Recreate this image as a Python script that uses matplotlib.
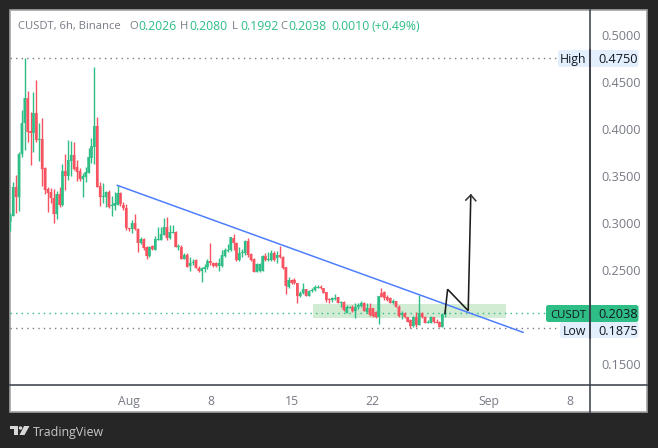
import matplotlib
matplotlib.use("Agg")
import matplotlib.pyplot as plt
from matplotlib.patches import Rectangle, FancyBboxPatch, Polygon, Circle

opens = [.3007,.3071,.3380,.3273,.3731,.4061,.4327,.3976,.3955,.4168,
 .3880,.3891,.3582,.3359,.3327,.3263,.3092,.3305,.3188,.3550,
 .3497,.3657,.3721,.3593,.3550,.3465,.3486,.3529,.3689,.3806,
 .4029,.3390,.3273,.3273,.3327,.3178,.3178,.3188,.3316,.3188,
 .3156,.2943,.2933,.2996,.2933,.2784,.2826,.2741,.2645,.2752,
 .2709,.2815,.2815,.2869,.2954,.2837,.2890,.2901,.2741,.2741,
 .2613,.2656,.2539,.2571,.2603,.2517,.2485,.2507,.2528,.2592,
 .2571,.2571,.2539,.2539,.2645,.2698,.2709,.2837,.2784,.2603,
 .2677,.2677,.2805,.2666,.2613,.2475,.2485,.2485,.2645,.2603,
 .2603,.2677,.2624,.2656,.2634,.2528,.2315,.2390,.2390,.2358,
 .2219,.2251,.2294,.2219,.2272,.2283,.2304,.2315,.2304,.2262,
 .2187,.2177,.2187,.2209,.2145,.2155,.2038,.2091,.2102,.2059,
 .2102,.2113,.2145,.2049,.2091,.2091,.2049,.1996,.2251,.2262,
 .2209,.2198,.2145,.2166,.2102,.2017,.2038,.1996,.1964,.1900,
 .1996,.1910,.2038,.1996,.1932,.1932,.1996,.1942,.1942,.1889,.2026]
highs = [.3103,.3433,.3508,.3752,.4200,.4753,.4402,.4178,.4391,.4519,
 .4061,.4115,.3593,.3380,.3369,.3359,.3337,.3380,.3625,.3731,
 .3880,.3870,.3859,.3667,.3582,.3529,.3593,.3795,.3902,.4658,
 .4125,.3433,.3423,.3337,.3348,.3284,.3327,.3401,.3327,.3220,
 .3199,.2943,.3028,.3092,.2943,.2847,.2837,.2752,.2752,.2762,
 .2858,.2954,.2954,.3050,.3060,.2975,.2975,.2911,.2773,.2762,
 .2677,.2677,.2634,.2613,.2613,.2539,.2528,.2560,.2613,.2784,
 .2581,.2581,.2624,.2709,.2730,.2773,.2847,.2879,.2794,.2741,
 .2720,.2815,.2837,.2677,.2624,.2571,.2571,.2656,.2677,.2688,
 .2709,.2698,.2698,.2752,.2645,.2528,.2421,.2400,.2411,.2358,
 .2272,.2358,.2294,.2283,.2304,.2336,.2336,.2336,.2304,.2262,
 .2198,.2209,.2241,.2209,.2166,.2166,.2123,.2113,.2123,.2145,
 .2145,.2166,.2155,.2145,.2145,.2091,.2059,.2219,.2304,.2272,
 .2230,.2209,.2187,.2166,.2123,.2059,.2049,.1996,.1974,.2006,
 .2049,.2230,.2049,.2006,.1964,.2006,.1996,.1974,.1953,.2038,.2080]
lows = [.2911,.3071,.3103,.3124,.3699,.3774,.3859,.3614,.3752,.3859,
 .3657,.3390,.3305,.3114,.3210,.2996,.3039,.3167,.3178,.3348,
 .3454,.3497,.3561,.3444,.3444,.3273,.3433,.3529,.3635,.3625,
 .3380,.3178,.3210,.3167,.3156,.3071,.3135,.3188,.3178,.3135,
 .2922,.2911,.2890,.2922,.2688,.2773,.2709,.2613,.2634,.2709,
 .2709,.2815,.2815,.2869,.2815,.2826,.2890,.2741,.2709,.2613,
 .2613,.2528,.2485,.2549,.2517,.2475,.2368,.2475,.2507,.2549,
 .2528,.2528,.2485,.2528,.2634,.2688,.2698,.2709,.2592,.2592,
 .2634,.2656,.2634,.2592,.2475,.2475,.2475,.2485,.2592,.2592,
 .2592,.2592,.2571,.2624,.2507,.2241,.2304,.2347,.2347,.2145,
 .2209,.2241,.2219,.2219,.2262,.2272,.2304,.2294,.2251,.2155,
 .2145,.2155,.2177,.2145,.2102,.2059,.2038,.2091,.2049,.1985,
 .2081,.2102,.2059,.2038,.2006,.1996,.1985,.1921,.2209,.2177,
 .2166,.2145,.2134,.2102,.1996,.1974,.1985,.1942,.1875,.1889,
 .1889,.1910,.1985,.1932,.1932,.1932,.1932,.1932,.1889,.1889,.1992]
closes = [.3082,.3380,.3273,.3731,.4061,.4327,.3965,.3955,.4168,.3880,
 .3891,.3571,.3348,.3316,.3263,.3092,.3305,.3188,.3550,.3497,
 .3667,.3721,.3571,.3540,.3465,.3497,.3540,.3699,.3816,.4029,
 .3380,.3273,.3284,.3327,.3167,.3188,.3210,.3316,.3199,.3156,
 .2943,.2933,.2996,.2933,.2784,.2826,.2730,.2645,.2741,.2720,
 .2826,.2826,.2879,.2954,.2837,.2901,.2901,.2741,.2752,.2613,
 .2656,.2528,.2571,.2581,.2517,.2485,.2517,.2528,.2592,.2571,
 .2539,.2539,.2571,.2656,.2709,.2709,.2847,.2784,.2603,.2677,
 .2688,.2805,.2656,.2603,.2475,.2560,.2560,.2645,.2603,.2613,
 .2677,.2603,.2656,.2634,.2517,.2326,.2390,.2358,.2358,.2219,
 .2251,.2294,.2219,.2272,.2283,.2315,.2315,.2304,.2251,.2177,
 .2177,.2198,.2198,.2145,.2155,.2070,.2102,.2102,.2059,.2102,
 .2123,.2145,.2059,.2091,.2017,.2006,.1996,.2219,.2209,.2198,
 .2177,.2145,.2166,.2102,.2006,.2038,.1996,.1942,.1900,.1996,
 .1910,.2038,.1996,.1932,.1942,.1996,.1942,.1932,.1889,.2026,.2038]

price_ticks = [0.15, 0.25, 0.30, 0.35, 0.40, 0.45, 0.50]
price_tick_labels = ["0.1500", "0.2500", "0.3000", "0.3500", "0.4000", "0.4500", "0.5000"]
time_ticks = [41, 69, 97, 125, 165, 193]
time_tick_labels = ["Aug", "8", "15", "22", "Sep", "8"]

high_level = 0.4750
last_level = 0.2038
low_level = 0.1875

trend_x = [36.9, 176.8]
trend_price = [0.3398, 0.1833]
zone_x = [104.4, 170.9]
zone_price = [0.1988, 0.2134]
path_x = [149.9, 150.8, 157.9, 158.8]
path_price = [0.2035, 0.2291, 0.2063, 0.3295]
head_x = [157.1, 158.8, 160.5]
head_price = [0.3241, 0.3295, 0.3234]

GREEN = "#2ebd85"
RED = "#f7525f"
GREY = "#787b86"
DARK = "#363a45"
W, H = 658, 448

plt.rcParams["font.family"] = ["Open Sans", "DejaVu Sans"]
fig = plt.figure(figsize=(W / 100, H / 100), dpi=100, facecolor="#262626")

# underlay: white panel
under = fig.add_axes([0, 0, 1, 1], zorder=0)
under.set_xlim(0, W); under.set_ylim(H, 0); under.axis("off")
under.add_patch(Rectangle((10, 10), 637, 402, fc="white", ec="#a3a3a3", lw=1.2))

# price pane
ax = fig.add_axes([10 / W, (H - 385) / H, 580 / W, 375 / H], zorder=1)
ax.patch.set_alpha(0)
ax.set_xlim(-0.1, 199.9)
ax.set_ylim(0.1272, 0.5265)
for s in ax.spines.values():
    s.set_visible(False)

ax.add_patch(Rectangle((zone_x[0], zone_price[0]), zone_x[1] - zone_x[0],
                       zone_price[1] - zone_price[0], fc="#d2ebd3", ec="none", zorder=1))
ax.plot([-0.1, 189], [high_level] * 2, color=GREY, lw=1, ls=(0, (1, 3)), zorder=1.5)
ax.plot([-0.1, 184.5], [last_level] * 2, color=GREEN, lw=1, ls=(0, (1, 3)), zorder=1.5)
ax.plot([-0.1, 189.5], [low_level] * 2, color=GREY, lw=1, ls=(0, (1, 3)), zorder=1.5)

for i, (o, h, l, c) in enumerate(zip(opens, highs, lows, closes)):
    col = GREEN if c >= o else RED
    ax.vlines(i, l, h, color=col, lw=1, zorder=2)
    ax.bar(i, max(abs(c - o), 0.0012), bottom=min(o, c), width=0.92, color=col, lw=0, zorder=3, snap=False)

ax.plot(trend_x, trend_price, color="#4d7fff", lw=1.1, zorder=4)
ax.plot(path_x, path_price, color="#1c1c1c", lw=1.15, zorder=5, solid_joinstyle="miter")
ax.plot(head_x, head_price, color="#333333", lw=1.1, zorder=5)

ax.yaxis.tick_right()
ax.set_yticks(price_ticks, price_tick_labels)
ax.set_xticks(time_ticks, time_tick_labels)
ax.tick_params(axis="y", length=0, pad=8, labelsize=9.2, labelcolor=GREY)
ax.tick_params(axis="x", length=0, pad=7, labelsize=8.8, labelcolor=GREY)

# overlay: axis lines, price labels, legend, footer
ov = fig.add_axes([0, 0, 1, 1], zorder=2)
ov.set_xlim(0, W); ov.set_ylim(H, 0); ov.axis("off"); ov.patch.set_alpha(0)
ov.plot([10, 647], [385, 385], color=DARK, lw=1.1)
ov.plot([590, 590], [10, 412], color=DARK, lw=1.1)


def box(x0, x1, y0, y1, fc):
    ov.add_patch(FancyBboxPatch((x0 + 2, y0 + 2), x1 - x0 - 4, y1 - y0 - 4,
                                boxstyle="round,pad=2,rounding_size=2.5", fc=fc, ec="none", zorder=1))


box(558, 638.5, 50, 67, "#e3effd")
box(546, 638.5, 305, 322, GREEN)
box(560, 638.5, 322, 338, "#e3effd")
ov.plot([590, 590], [50, 338], color=DARK, lw=1.1, zorder=1.5)
for label, size, value, y, in [("High", 8.8, "0.4750", 58.3), ("CUSDT", 8.2, "0.2038", 313.5), ("Low", 8.8, "0.1875", 330)]:
    ov.text(586, y, label, ha="right", va="center_baseline", fontsize=size, color="#131722", zorder=2)
    ov.text(598, y, value, ha="left", va="center_baseline", fontsize=9.2, color="#131722", zorder=2)

legend = [(18, "CUSDT, 6h, Binance", GREY, 8.1), (129, "O", GREY, 8.1), (138, "0.2026", GREEN, 8.8),
          (180, "H", GREY, 8.1), (189, "0.2080", GREEN, 8.8), (232, "L", GREY, 8.1), (240, "0.1992", GREEN, 8.8),
          (280, "C", GREY, 8.1), (288, "0.2038", GREEN, 8.8), (331, "0.0010", GREEN, 8.8), (371, "(+0.49%)", GREEN, 8.8)]
for x, s, col, size in legend:
    ov.text(x, 25, s, ha="left", va="center_baseline", fontsize=size, color=col)

# footer logo and name
ov.add_patch(Polygon([(10, 426), (18, 426), (18, 435), (14, 435), (14, 429), (10, 429)], fc="#d8d8d8", ec="none"))
ov.add_patch(Circle((20.5, 428), 1.7, fc="#d8d8d8", ec="none"))
ov.add_patch(Polygon([(24, 426), (29.5, 426), (24.5, 435), (19.5, 435)], fc="#d8d8d8", ec="none"))
ov.text(33, 431, "TradingView", ha="left", va="center_baseline", fontsize=8.9, color="#c8c8c8")

fig.savefig("out.png", dpi=100, facecolor=fig.get_facecolor())
